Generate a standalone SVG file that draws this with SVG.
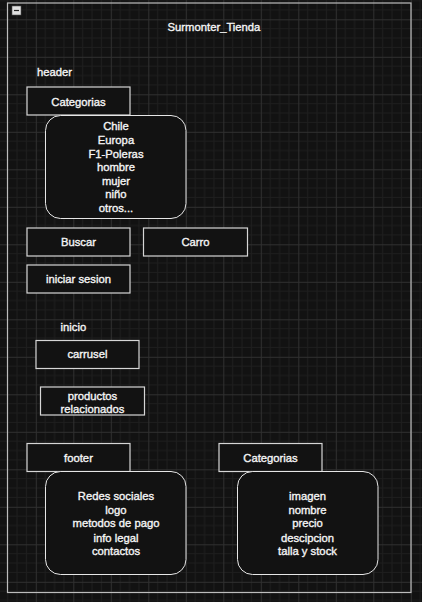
<svg xmlns="http://www.w3.org/2000/svg" width="422" height="602" viewBox="0 0 422 602">
<defs>
<pattern id="grid" patternUnits="userSpaceOnUse" x="-1.7" y="19.3" width="37.5" height="37.5">
<path d="M9.375 0V37.5M18.75 0V37.5M28.125 0V37.5M0 9.375H37.5M0 18.75H37.5M0 28.125H37.5" stroke="#1e1e1e" stroke-width="1" fill="none"/>
<path d="M0.5 0V37.5M0 0.5H37.5" stroke="#303030" stroke-width="1" fill="none"/>
</pattern>
<style>
.box{fill:#121212;stroke:#d6d6d6;stroke-width:1.2}
.rbox{fill:#121212;stroke:#e6e6e6;stroke-width:1}
.t{font-family:"Liberation Sans",Arial,sans-serif;font-size:11.25px;fill:#f5f5f5;stroke:#f5f5f5;stroke-width:0.35;text-anchor:middle}
.tl{font-family:"Liberation Sans",Arial,sans-serif;font-size:11.25px;fill:#f5f5f5;stroke:#f5f5f5;stroke-width:0.35}
</style>
</defs>
<rect x="0" y="0" width="422" height="602" fill="#121212"/>
<rect x="0" y="0" width="422" height="602" fill="url(#grid)"/>

<g id="container">
<rect x="7.5" y="3" width="403.5" height="589.5" fill="none" stroke="#bdbdbd" stroke-width="1.2"/>
<rect x="12" y="6" width="9" height="9" fill="#e0e0e0" stroke="#555" stroke-width="0.6"/>
<path d="M14 10.5H19" stroke="#222" stroke-width="1.2"/>
<text class="t" x="214" y="31">Surmonter_Tienda</text>
</g>

<g id="header-label"><text class="tl" x="37" y="76">header</text></g>

<g id="categorias-header">
<rect class="box" x="27" y="87" width="103" height="28"/>
<text class="t" x="78.5" y="106">Categorias</text>
</g>

<g id="categorias-list">
<rect class="rbox" x="45.5" y="115.5" width="140.5" height="103" rx="15" ry="15"/>
<text class="t" x="116" y="130">Chile</text>
<text class="t" x="116" y="144">Europa</text>
<text class="t" x="116" y="157.5">F1-Poleras</text>
<text class="t" x="116" y="171">hombre</text>
<text class="t" x="116" y="184.5">mujer</text>
<text class="t" x="116" y="198">niño</text>
<text class="t" x="116" y="211.5">otros...</text>
</g>

<g id="buscar">
<rect class="box" x="27" y="228" width="103" height="28"/>
<text class="t" x="78.5" y="246">Buscar</text>
</g>

<g id="carro">
<rect class="box" x="143.5" y="228" width="104" height="28"/>
<text class="t" x="195.5" y="246">Carro</text>
</g>

<g id="iniciar-sesion">
<rect class="box" x="27" y="265" width="103" height="28"/>
<text class="t" x="78.5" y="283">iniciar sesion</text>
</g>

<g id="inicio-label"><text class="tl" x="60.5" y="331">inicio</text></g>

<g id="carrusel">
<rect class="box" x="36" y="340.5" width="103" height="28"/>
<text class="t" x="87.5" y="358">carrusel</text>
</g>

<g id="productos-relacionados">
<rect class="box" x="40.5" y="387" width="104" height="28"/>
<text class="t" x="92.5" y="399.5">productos</text>
<text class="t" x="92.5" y="412.5">relacionados</text>
</g>

<g id="footer">
<rect class="box" x="27" y="443.5" width="103" height="28"/>
<text class="t" x="78.5" y="462">footer</text>
</g>

<g id="footer-list">
<rect class="rbox" x="45.5" y="471.5" width="140.5" height="103" rx="15" ry="15"/>
<text class="t" x="116" y="500">Redes sociales</text>
<text class="t" x="116" y="514">logo</text>
<text class="t" x="116" y="527">metodos de pago</text>
<text class="t" x="116" y="541.5">info legal</text>
<text class="t" x="116" y="554.5">contactos</text>
</g>

<g id="categorias-producto">
<rect class="box" x="219" y="443.5" width="103" height="28"/>
<text class="t" x="270.5" y="462">Categorias</text>
</g>

<g id="producto-list">
<rect class="rbox" x="237.5" y="471.5" width="140.5" height="103" rx="15" ry="15"/>
<text class="t" x="307.5" y="500">imagen</text>
<text class="t" x="307.5" y="514">nombre</text>
<text class="t" x="307.5" y="527">precio</text>
<text class="t" x="307.5" y="541.5">descipcion</text>
<text class="t" x="307.5" y="554.5">talla y stock</text>
</g>
</svg>
